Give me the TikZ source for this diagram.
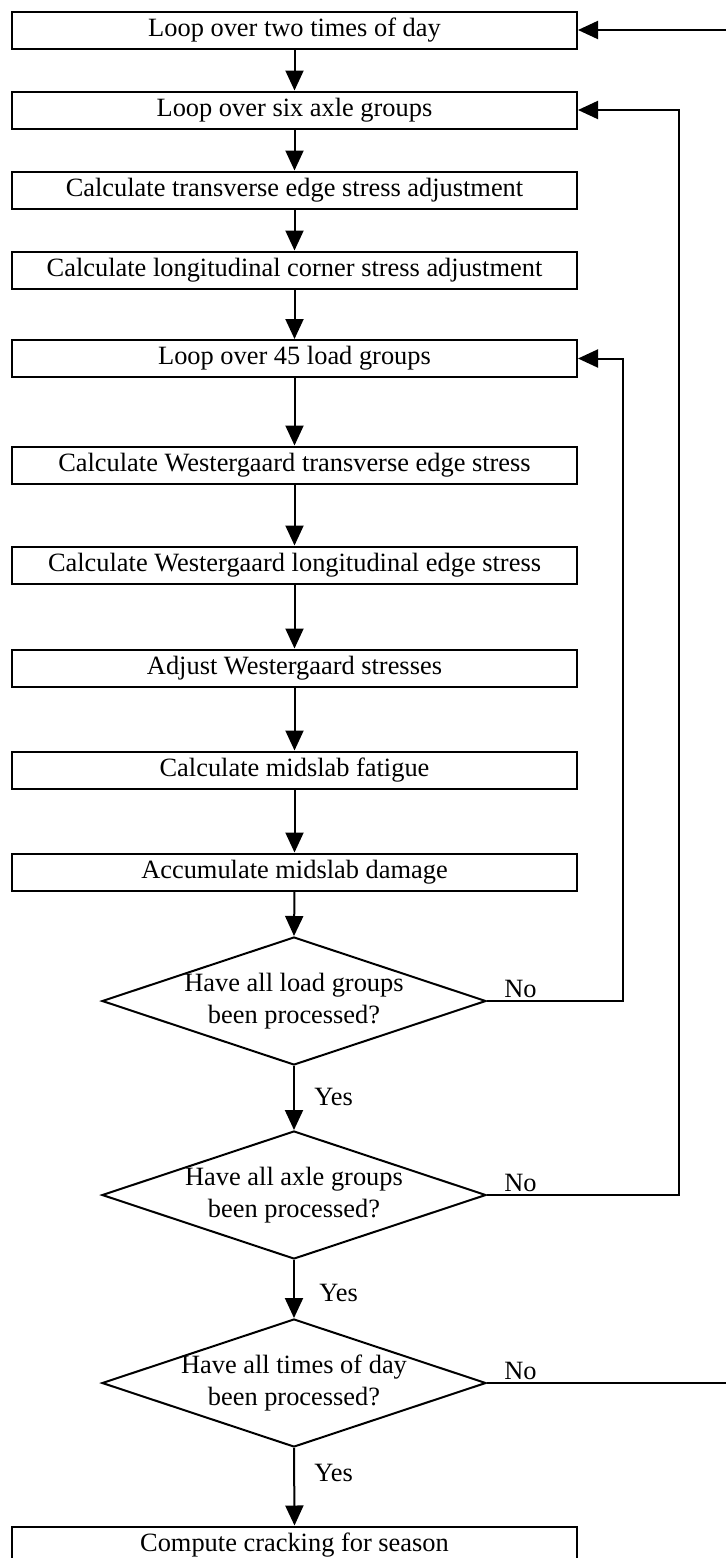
\documentclass[tikz,border=0pt]{standalone}
\usepackage{fontspec}
\setmainfont{Liberation Serif}
\usetikzlibrary{shapes.geometric,arrows.meta}
\begin{document}
\begin{tikzpicture}[x=0.5pt,y=-0.5pt,
  txt/.style={font=\fontsize{13.2}{16}\selectfont},
  stepbox/.style={txt,draw,line width=1pt,minimum width=282.5pt,minimum height=18.5pt,inner sep=0pt},
  decision/.style={txt,draw,diamond,aspect=3,line width=1pt,minimum width=192pt,minimum height=64pt,inner sep=-3pt,align=center},
  arr/.style={line width=1pt,-{Triangle[length=10pt,width=9pt]}},
  lbl/.style={txt,inner sep=0pt}]
\useasboundingbox (0,0) rectangle (725,1558);

\node[stepbox] (b1) at (294.5,30) {Loop over two times of day};
\node[stepbox] (b2) at (294.5,110) {Loop over six axle groups};
\node[stepbox] (b3) at (294.5,190) {Calculate transverse edge stress adjustment};
\node[stepbox] (b4) at (294.5,270) {Calculate longitudinal corner stress adjustment};
\node[stepbox] (b5) at (294.5,358.5) {Loop over 45 load groups};
\node[stepbox] (b6) at (294.5,465) {Calculate Westergaard transverse edge stress};
\node[stepbox] (b7) at (294.5,565) {Calculate Westergaard longitudinal edge stress};
\node[stepbox] (b8) at (294.5,668) {Adjust Westergaard stresses};
\node[stepbox] (b9) at (294.5,770) {Calculate midslab fatigue};
\node[stepbox] (b10) at (294.5,872) {Accumulate midslab damage};

\node[decision] (d1) at (294,1001) {Have all load groups\\been processed?};
\node[decision] (d2) at (294,1195) {Have all axle groups\\been processed?};
\node[decision] (d3) at (294,1383) {Have all times of day\\been processed?};

\node[stepbox] (b11) at (294.5,1545) {Compute cracking for season};

\draw[arr] (b1) -- (b2);
\draw[arr] (b2) -- (b3);
\draw[arr] (b3) -- (b4);
\draw[arr] (b4) -- (b5);
\draw[arr] (b5) -- (b6);
\draw[arr] (b6) -- (b7);
\draw[arr] (b7) -- (b8);
\draw[arr] (b8) -- (b9);
\draw[arr] (b9) -- (b10);
\draw[arr] (b10.south) -- (d1.north);
\draw[arr] (d1.south) -- (d2.north);
\draw[arr] (d2.south) -- (d3.north);
\draw[arr] (d3.south) -- (b11.north);

\draw[arr] (d1.east) -- ++(136,0) |- (b5.east);
\draw[arr] (d2.east) -- ++(192,0) |- (b2.east);
\draw[arr] (d3.east) -- ++(240,0) |- (b1.east);

\node[lbl,anchor=base west] (no1) at (504,997) {No};
\node[lbl,anchor=base west] (no2) at (504,1191) {No};
\node[lbl,anchor=base west] (no3) at (504,1379) {No};

\node[lbl,anchor=west] (yes1) at (314,1097) {Yes};
\node[lbl,anchor=west] (yes2) at (319,1293) {Yes};
\node[lbl,anchor=west] (yes3) at (314,1473) {Yes};
\end{tikzpicture}
\end{document}
